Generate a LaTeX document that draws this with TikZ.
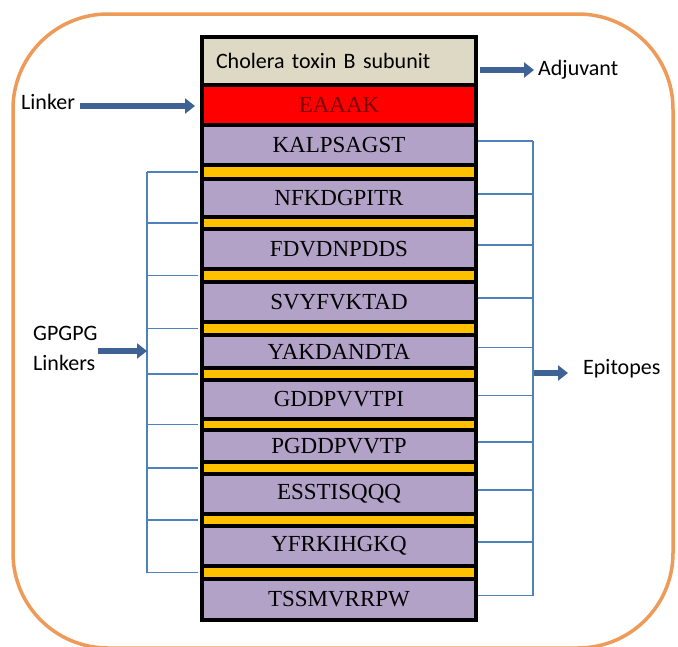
\documentclass[tikz,border=0pt]{standalone}
\usepackage{fontspec}
\setmainfont{Liberation Serif}
\newfontfamily\calib{Carlito}
\usetikzlibrary{arrows.meta}
\definecolor{orangeb}{HTML}{EE9A58}
\definecolor{beige}{HTML}{DDD9C4}
\definecolor{lav}{HTML}{B3A2C7}
\definecolor{gold}{HTML}{FFC000}
\definecolor{arrowblue}{HTML}{3E6293}
\definecolor{brk}{HTML}{4F81BD}
\definecolor{darkred}{HTML}{7A0000}
\begin{document}
\begin{tikzpicture}[x=1pt,y=-1pt,
 seg/.style={draw=black, line width=4pt, minimum width=274pt, inner sep=0pt, anchor=center, font=\fontsize{23}{25}\selectfont},
 epi/.style={seg, fill=lav},
 gpl/.style={seg, fill=gold},
 lbl/.style={inner sep=0pt, font=\calib\fontsize{22}{30}\selectfont},
 arr/.style={draw=arrowblue, line width=6pt, -{Triangle[length=10pt,width=15pt]}},
 brack/.style={draw=brk, line width=1.1pt}]
\useasboundingbox (0,0) rectangle (678,646);
\clip (0,0) rectangle (678,646);
\fill[white] (0,0) rectangle (678,646);
% frame
\draw[draw=orangeb, line width=3.5pt, rounded corners=95pt] (13,14) rectangle (673,648);
% stack
\node[seg, fill=beige, minimum height=48pt, text width=246pt, inner xsep=14pt, align=left, font=\calib\fontsize{22}{24}\selectfont] (cb) at (339,61) {Cholera toxin B subunit};
\node[seg, fill=red, text=darkred, minimum height=40pt] (ea) at (339,105) {EAAAK};
\node[epi, minimum height=40pt] (s1) at (339,145) {KALPSAGST};
\node[gpl, minimum height=14pt] (y1) at (339,172) {};
\node[epi, minimum height=38pt] (s2) at (339,198) {NFKDGPITR};
\node[gpl, minimum height=12pt] (y2) at (339,223) {};
\node[epi, minimum height=40pt] (s3) at (339,249) {FDVDNPDDS};
\node[gpl, minimum height=13pt] (y3) at (339,275.5) {};
\node[epi, minimum height=40pt] (s4) at (339,302) {SVYFVKTAD};
\node[gpl, minimum height=13pt] (y4) at (339,328.5) {};
\node[epi, minimum height=33pt] (s5) at (339,351.5) {YAKDANDTA};
\node[gpl, minimum height=12pt] (y5) at (339,374) {};
\node[epi, minimum height=39pt] (s6) at (339,399.5) {GDDPVVTPI};
\node[gpl, minimum height=11pt] (y6) at (339,424.5) {};
\node[epi, minimum height=32pt] (s7) at (339,446) {PGDDPVVTP};
\node[gpl, minimum height=12pt] (y7) at (339,468) {};
\node[epi, minimum height=40pt] (s8) at (339,494) {ESSTISQQQ};
\node[gpl, minimum height=12pt] (y8) at (339,520) {};
\node[epi, minimum height=40pt] (s9) at (339,546) {YFRKIHGKQ};
\node[gpl, minimum height=13pt] (y9) at (339,572.5) {};
\node[epi, minimum height=41pt] (s10) at (339,599.5) {TSSMVRRPW};
% brackets
\coordinate (lx) at (147,0);
\coordinate (rx) at (533,0);
\foreach \i in {1,...,9} {
  \draw[brack] ([xshift=-2pt]y\i.west) -- (y\i.west -| lx);
}
\draw[brack] (y1.west -| lx) -- (y9.west -| lx);
\foreach \i in {1,...,10} {
  \draw[brack] ([yshift=4pt]s\i.east) -- ([yshift=4pt]s\i.east -| rx);
}
\draw[brack] ([yshift=4pt]s1.east -| rx) -- ([yshift=4pt]s10.east -| rx);
% labels and arrows
\node[lbl, anchor=west] (lk) at (21,102) {Linker};
\draw[arr, shorten <=5pt, shorten >=5pt] ([yshift=-4pt]lk.east) -- ([yshift=-4pt]lk.east -| ea.west);
\node[lbl, anchor=west] (adj) at (538,70) {Adjuvant};
\draw[arr, shorten <=2pt, shorten >=4pt] (cb.east |- adj.west) -- (adj.west);
\node[lbl, anchor=west, align=left] (gl) at (33,348) {GPGPG\\Linkers};
\coordinate (lb) at (147,351);
\draw[arr] (gl.east |- lb) -- (lb);
\node[lbl, anchor=west] (ep) at (583,369) {Epitopes};
\coordinate (re) at (534,373);
\draw[arr, shorten >=15pt] (re) -- (ep.west |- re);
\end{tikzpicture}
\end{document}
